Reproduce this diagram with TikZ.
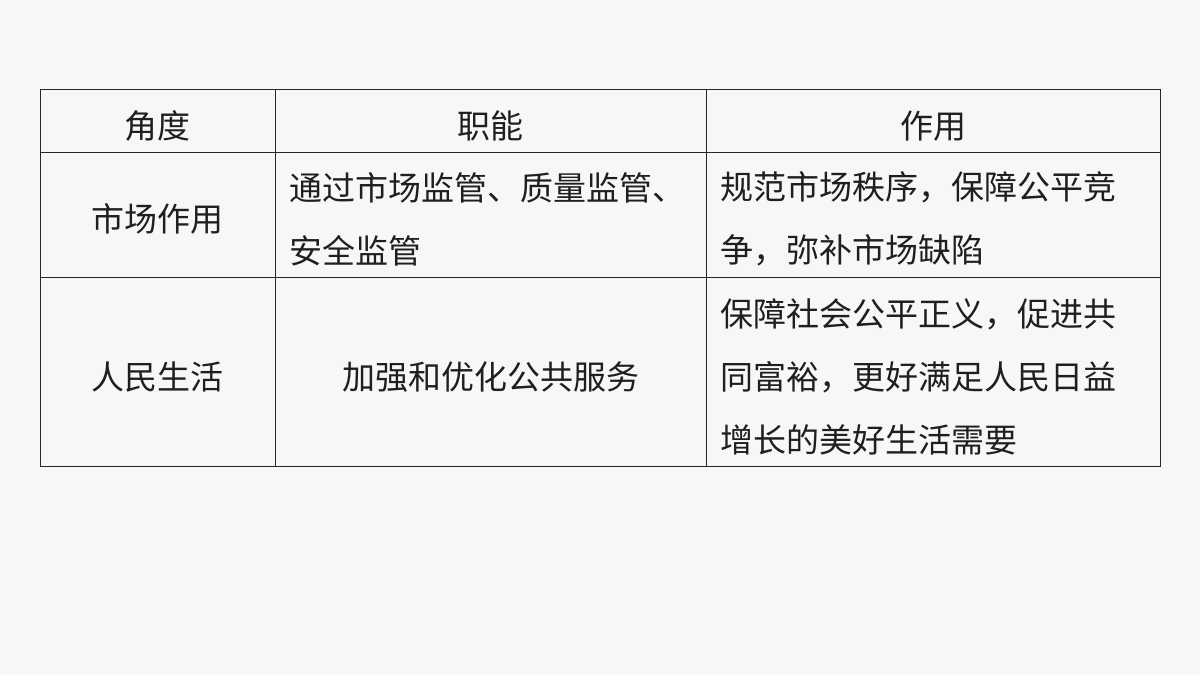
\documentclass[tikz,border=0pt]{standalone}
\usepackage{fontspec}
\newfontfamily\cjk{Noto Sans CJK SC}
\begin{document}
\begin{tikzpicture}[x=1pt,y=-1pt,
  txt/.style={font=\cjk\fontsize{33}{63}\selectfont,text=black!88,inner sep=0pt},
  grid/.style={draw=black!85,line width=0.9pt}]
\fill[black!3] (0,0) rectangle (1200,675);
\useasboundingbox (0,0) rectangle (1200,675);
\draw[grid] (40,89) rectangle (1160,466);
\draw[grid] (40,152) -- (1160,152);
\draw[grid] (40,277) -- (1160,277);
\draw[grid] (275,89) -- (275,466);
\draw[grid] (706,89) -- (706,466);
\node[txt] (h1) at (157.5,126) {角度};
\node[txt] (h2) at (490.5,126) {职能};
\node[txt] (h3) at (933,126) {作用};
\node[txt] (r1a) at (157.5,219) {市场作用};
\node[txt,anchor=west,align=left] (r1b) at (289,219) {通过市场监管、质量监管、\\安全监管};
\node[txt,anchor=west,align=left] (r1c) at (720,219) {规范市场秩序，保障公平竞\\争，弥补市场缺陷};
\node[txt] (r2a) at (157.5,377) {人民生活};
\node[txt] (r2b) at (490.5,377) {加强和优化公共服务};
\node[txt,anchor=west,align=left] (r2c) at (720,377) {保障社会公平正义，促进共\\同富裕，更好满足人民日益\\增长的美好生活需要};
\end{tikzpicture}
\end{document}
